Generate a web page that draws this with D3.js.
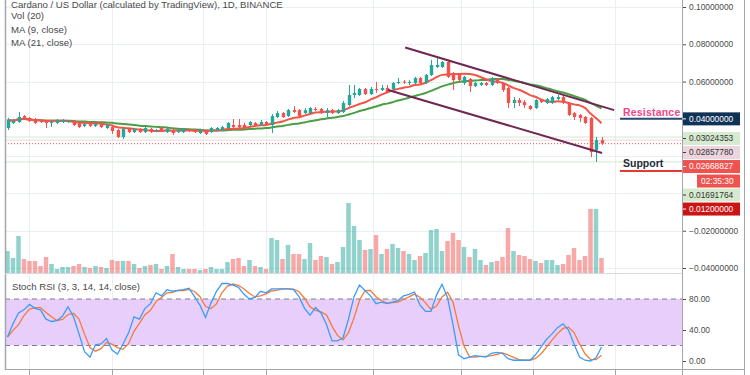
<!DOCTYPE html>
<html>
<head>
<meta charset="utf-8">
<script src="https://cdn.jsdelivr.net/npm/d3@7"></script>
<style>
  body { margin: 0; background: #fff; }
  svg { display: block; font-family: 'Liberation Sans', Arial, sans-serif; }
</style>
</head>
<body>
<svg id="chart" width="750" height="375"></svg>
<script>
// daily candles: open, high, low, close
const candles = [
  [0.0351, 0.0405, 0.0340, 0.0394], [0.0378, 0.0399, 0.0372, 0.0388], [0.0383, 0.0437, 0.0378, 0.0410], [0.0415, 0.0421, 0.0399, 0.0405],
  [0.0405, 0.0410, 0.0383, 0.0388], [0.0399, 0.0405, 0.0372, 0.0378], [0.0388, 0.0394, 0.0378, 0.0383], [0.0388, 0.0394, 0.0351, 0.0378],
  [0.0378, 0.0388, 0.0356, 0.0383], [0.0378, 0.0399, 0.0372, 0.0394], [0.0383, 0.0399, 0.0378, 0.0394], [0.0383, 0.0394, 0.0378, 0.0388],
  [0.0388, 0.0394, 0.0362, 0.0367], [0.0378, 0.0383, 0.0351, 0.0356], [0.0362, 0.0378, 0.0356, 0.0372], [0.0372, 0.0378, 0.0356, 0.0362],
  [0.0362, 0.0378, 0.0356, 0.0372], [0.0372, 0.0378, 0.0351, 0.0356], [0.0351, 0.0372, 0.0346, 0.0367], [0.0356, 0.0362, 0.0319, 0.0335],
  [0.0340, 0.0346, 0.0297, 0.0303], [0.0303, 0.0351, 0.0292, 0.0346], [0.0346, 0.0351, 0.0324, 0.0329], [0.0329, 0.0351, 0.0324, 0.0346],
  [0.0346, 0.0351, 0.0324, 0.0329], [0.0329, 0.0356, 0.0324, 0.0351], [0.0346, 0.0351, 0.0324, 0.0329], [0.0335, 0.0346, 0.0329, 0.0340],
  [0.0351, 0.0356, 0.0329, 0.0335], [0.0329, 0.0351, 0.0324, 0.0346], [0.0340, 0.0346, 0.0313, 0.0324], [0.0329, 0.0346, 0.0324, 0.0340],
  [0.0329, 0.0351, 0.0324, 0.0346], [0.0340, 0.0346, 0.0329, 0.0335], [0.0340, 0.0346, 0.0324, 0.0329], [0.0324, 0.0346, 0.0319, 0.0340],
  [0.0335, 0.0340, 0.0313, 0.0319], [0.0329, 0.0356, 0.0324, 0.0351], [0.0340, 0.0356, 0.0335, 0.0351], [0.0340, 0.0362, 0.0335, 0.0356],
  [0.0351, 0.0383, 0.0346, 0.0378], [0.0367, 0.0399, 0.0351, 0.0356], [0.0367, 0.0399, 0.0351, 0.0356], [0.0367, 0.0378, 0.0351, 0.0356],
  [0.0367, 0.0388, 0.0362, 0.0383], [0.0378, 0.0383, 0.0362, 0.0367], [0.0367, 0.0394, 0.0362, 0.0383], [0.0383, 0.0388, 0.0367, 0.0372],
  [0.0367, 0.0426, 0.0324, 0.0415], [0.0410, 0.0442, 0.0405, 0.0431], [0.0431, 0.0437, 0.0405, 0.0410], [0.0415, 0.0453, 0.0410, 0.0447],
  [0.0447, 0.0469, 0.0431, 0.0437], [0.0447, 0.0453, 0.0410, 0.0415], [0.0431, 0.0458, 0.0426, 0.0447], [0.0431, 0.0464, 0.0426, 0.0458],
  [0.0453, 0.0464, 0.0442, 0.0447], [0.0453, 0.0458, 0.0426, 0.0431], [0.0431, 0.0458, 0.0410, 0.0447], [0.0447, 0.0453, 0.0426, 0.0431],
  [0.0431, 0.0453, 0.0426, 0.0447], [0.0437, 0.0496, 0.0431, 0.0485], [0.0474, 0.0582, 0.0469, 0.0528], [0.0528, 0.0582, 0.0512, 0.0539],
  [0.0528, 0.0566, 0.0523, 0.0560], [0.0560, 0.0566, 0.0528, 0.0533], [0.0533, 0.0571, 0.0528, 0.0560], [0.0560, 0.0598, 0.0539, 0.0555],
  [0.0555, 0.0582, 0.0549, 0.0566], [0.0566, 0.0582, 0.0539, 0.0544], [0.0560, 0.0598, 0.0555, 0.0592], [0.0592, 0.0619, 0.0587, 0.0598],
  [0.0600, 0.0608, 0.0587, 0.0598], [0.0592, 0.0608, 0.0582, 0.0598], [0.0592, 0.0625, 0.0587, 0.0619], [0.0619, 0.0625, 0.0587, 0.0592],
  [0.0592, 0.0641, 0.0587, 0.0635], [0.0635, 0.0716, 0.0630, 0.0689], [0.0678, 0.0726, 0.0673, 0.0689], [0.0678, 0.0710, 0.0673, 0.0705],
  [0.0705, 0.0710, 0.0619, 0.0625], [0.0646, 0.0651, 0.0555, 0.0608], [0.0635, 0.0641, 0.0598, 0.0608], [0.0592, 0.0630, 0.0582, 0.0625],
  [0.0614, 0.0619, 0.0544, 0.0576], [0.0576, 0.0598, 0.0571, 0.0592], [0.0582, 0.0598, 0.0576, 0.0592], [0.0592, 0.0598, 0.0576, 0.0582],
  [0.0582, 0.0625, 0.0576, 0.0619], [0.0614, 0.0619, 0.0587, 0.0592], [0.0592, 0.0598, 0.0544, 0.0555], [0.0566, 0.0571, 0.0458, 0.0485],
  [0.0485, 0.0517, 0.0458, 0.0501], [0.0501, 0.0512, 0.0469, 0.0485], [0.0490, 0.0501, 0.0458, 0.0474], [0.0469, 0.0474, 0.0447, 0.0453],
  [0.0458, 0.0506, 0.0453, 0.0501], [0.0501, 0.0506, 0.0485, 0.0490], [0.0485, 0.0512, 0.0480, 0.0506], [0.0485, 0.0523, 0.0480, 0.0517],
  [0.0506, 0.0528, 0.0501, 0.0517], [0.0517, 0.0528, 0.0480, 0.0485], [0.0485, 0.0490, 0.0415, 0.0421], [0.0431, 0.0437, 0.0394, 0.0410],
  [0.0421, 0.0426, 0.0383, 0.0405], [0.0410, 0.0415, 0.0372, 0.0378], [0.0405, 0.0410, 0.0195, 0.0222], [0.0233, 0.0303, 0.0169, 0.0286],
  [0.0286, 0.0302, 0.0260, 0.0267]
]

// volume, millions
const volumes = [
  22, 15, 37, 14, 12, 12, 7, 16, 9, 4, 6, 6, 7, 9, 6, 5, 7, 6, 5, 13,
  12, 12, 12, 9, 5, 7, 8, 9, 4, 7, 19, 6, 4, 4, 4, 3, 4, 6, 4, 4,
  11, 14, 15, 7, 13, 7, 6, 4, 35, 33, 14, 28, 19, 19, 14, 30, 13, 17, 16, 9,
  11, 26, 70, 47, 33, 23, 24, 38, 19, 24, 29, 25, 22, 19, 13, 17, 20, 43, 44, 22,
  32, 40, 33, 26, 16, 24, 13, 8, 11, 12, 16, 45, 22, 18, 17, 14, 12, 10, 13, 13,
  8, 9, 18, 25, 13, 17, 64, 64, 15
]

// stoch RSI %K
const stochK = [
  31, 48, 62, 66, 73, 68, 66, 54, 51, 52, 58, 70, 57, 35, 12, 5, 21, 22, 29, 14,
  9, 22, 36, 57, 54, 68, 74, 88, 84, 92, 90, 91, 92, 94, 83, 72, 56, 75, 90, 100,
  100, 98, 95, 86, 80, 82, 90, 88, 93, 93, 93, 93, 92, 83, 68, 59, 69, 62, 47, 26,
  26, 30, 54, 83, 98, 91, 84, 74, 76, 74, 76, 78, 84, 86, 89, 72, 64, 64, 85, 99,
  82, 47, 8, 3, 5, 7, 6, 5, 10, 11, 10, 3, 1, 1, 1, 1, 8, 18, 28, 35,
  43, 48, 40, 22, 5, 1, 0, 4, 18
]

const priceTicks = [0.10, 0.08, 0.06, 0.04, 0.02, 0, -0.02, -0.04]
const rsiTicks = [80, 40, 0]
const gridDays = [4, 19, 35.5, 47, 66.5, 82.5, 95.5, 110.5]
const channelUpper = [[72.3, 0.0783], [110.3, 0.0447]]
const channelLower = [[69.2, 0.0555], [108.1, 0.0217]]
const resistance = 0.04
const support = 0.012
const priceLabels = [
  { v: 0.03024353, line: '#d3e8cf', bg: '#d6eacf', fg: '#333' },
  { v: 0.02857780, line: '#f1d4de', bg: '#ecd4df', fg: '#333' },
  { v: 0.02668827, line: '#ef5350', bg: '#ef5350', fg: '#fff', dotted: true, timer: '02:35:30' },
  { v: 0.01691764, line: '#d3e8cf', bg: '#d6eacf', fg: '#333' },
  { v: 0.012, bg: '#cc1414', fg: '#fff' }
]
const legend = ['Cardano / US Dollar (calculated by TradingView), 1D, BINANCE', 'Vol (20)', 'MA (9, close)', 'MA (21, close)']

const up = '#26a69a', down = '#ef5350'
const paneL = 5, paneR = 682, mainB = 273, rsiT = 274, rsiB = 370

let svg = d3.select('#chart')
let x = d3.scaleLinear().domain([0, 108]).range([7.5, 601.5])
let y = d3.scaleLinear().domain([-0.04, 0.10]).range([268, 7])
let yVol = d3.scaleLinear().domain([0, 100]).range([mainB, mainB - 100])
let yRsi = d3.scaleLinear().domain([0, 100]).range([361, 283.5])
let fmt = d3.format('.8f')

let defs = svg.append('defs')
defs.append('clipPath').attr('id', 'clipMain').append('rect')
  .attr('x', paneL).attr('y', 0).attr('width', paneR - paneL).attr('height', mainB)
defs.append('clipPath').attr('id', 'clipRsi').append('rect')
  .attr('x', paneL).attr('y', rsiT).attr('width', paneR - paneL).attr('height', rsiB - rsiT)

// grid
let grid = svg.append('g').attr('stroke', '#e9eff4').attr('stroke-width', 1)
grid.selectAll('.gx').data(gridDays).join('line')
  .attr('x1', d => Math.round(x(d)) + 0.5).attr('x2', d => Math.round(x(d)) + 0.5)
  .attr('y1', 0).attr('y2', rsiB)
grid.selectAll('.gy').data(priceTicks).join('line')
  .attr('x1', paneL).attr('x2', paneR)
  .attr('y1', d => Math.round(y(d)) + 0.5).attr('y2', d => Math.round(y(d)) + 0.5)
grid.append('line')
  .attr('x1', paneL).attr('x2', paneR)
  .attr('y1', Math.round(yRsi(40)) + 0.5).attr('y2', Math.round(yRsi(40)) + 0.5)

let main = svg.append('g').attr('clip-path', 'url(#clipMain)')

// volume
let bw = x(1) - x(0)
main.append('g').selectAll('rect').data(volumes).join('rect')
  .attr('x', (d, i) => x(i) - bw / 2 + 0.5)
  .attr('width', bw - 1)
  .attr('y', d => yVol(d))
  .attr('height', d => yVol(0) - yVol(d))
  .attr('fill', (d, i) => candles[i][3] >= candles[i][0] ? up : down)
  .attr('fill-opacity', 0.5)

// price level lines
priceLabels.filter(d => d.line).forEach(d => {
  main.append('line')
    .attr('x1', paneL).attr('x2', paneR)
    .attr('y1', y(d.v)).attr('y2', y(d.v))
    .attr('stroke', d.line)
    .attr('stroke-width', 1)
    .attr('stroke-dasharray', d.dotted ? '1,2' : null)
})

// moving averages
function movingAvg(n) {
  return candles.map((c, i) => d3.mean(candles.slice(Math.max(0, i - n + 1), i + 1), d => d[3]))
}
let line = d3.line().x((d, i) => x(i)).y(d => y(d)).curve(d3.curveMonotoneX)
main.append('path').datum(movingAvg(21))
  .attr('d', line).attr('fill', 'none').attr('stroke', '#4b9e45').attr('stroke-width', 2)
main.append('path').datum(movingAvg(9))
  .attr('d', line).attr('fill', 'none').attr('stroke', '#f25546').attr('stroke-width', 2)

// candles
let cg = main.append('g').selectAll('g').data(candles).join('g')
  .attr('stroke', d => d[3] >= d[0] ? up : down)
  .attr('fill', d => d[3] >= d[0] ? up : down)
cg.append('line')
  .attr('x1', (d, i) => Math.round(x(i)) + 0.5).attr('x2', (d, i) => Math.round(x(i)) + 0.5)
  .attr('y1', d => y(d[1])).attr('y2', d => y(d[2]))
cg.append('rect')
  .attr('stroke', 'none')
  .attr('x', (d, i) => Math.round(x(i)) + 0.5 - 1.7)
  .attr('width', 3.4)
  .attr('y', d => y(Math.max(d[0], d[3])))
  .attr('height', d => Math.max(1, Math.abs(y(d[0]) - y(d[3]))))

// channel
;[channelUpper, channelLower].forEach(c => {
  main.append('line')
    .attr('x1', x(c[0][0])).attr('y1', y(c[0][1]))
    .attr('x2', x(c[1][0])).attr('y2', y(c[1][1]))
    .attr('stroke', '#6e2853').attr('stroke-width', 2)
})

// resistance / support
let rayX = 620
svg.append('line').attr('x1', rayX).attr('x2', paneR).attr('y1', y(resistance)).attr('y2', y(resistance))
  .attr('stroke', '#2b4a73').attr('stroke-width', 2)
svg.append('text').attr('x', rayX + 3).attr('y', y(resistance) - 3)
  .attr('font-size', 10.5).attr('font-weight', 'bold').attr('fill', '#f0468a')
  .attr('letter-spacing', 0.2).text('Resistance')
svg.append('line').attr('x1', rayX).attr('x2', paneR).attr('y1', y(support)).attr('y2', y(support))
  .attr('stroke', '#e53935').attr('stroke-width', 2)
svg.append('text').attr('x', rayX + 3).attr('y', y(support) - 4)
  .attr('font-size', 10.5).attr('font-weight', 'bold').attr('fill', '#1f2a38')
  .text('Support')

// legend
svg.append('g').selectAll('text').data(legend).join('text')
  .attr('x', 11)
  .attr('y', (d, i) => [7.5, 19, 32.5, 46][i])
  .attr('font-size', 9.6)
  .attr('fill', '#4a4a4a')
  .text(d => d)

// stoch RSI pane
let rsi = svg.append('g').attr('clip-path', 'url(#clipRsi)')
rsi.append('rect')
  .attr('x', paneL).attr('width', paneR - paneL)
  .attr('y', yRsi(80)).attr('height', yRsi(20) - yRsi(80))
  .attr('fill', '#e8cffb')
;[80, 20].forEach(v => {
  rsi.append('line').attr('x1', paneL).attr('x2', paneR)
    .attr('y1', yRsi(v)).attr('y2', yRsi(v))
    .attr('stroke', '#7b7e88').attr('stroke-dasharray', '5,4')
})
let stochD = stochK.map((d, i) => d3.mean(stochK.slice(Math.max(0, i - 2), i + 1)))
let rsiLine = d3.line().x((d, i) => x(i)).y(d => yRsi(d))
rsi.append('path').datum(stochD).attr('d', rsiLine)
  .attr('fill', 'none').attr('stroke', '#f57a3a').attr('stroke-width', 1.3)
rsi.append('path').datum(stochK).attr('d', rsiLine)
  .attr('fill', 'none').attr('stroke', '#3d9bf6').attr('stroke-width', 1.3)
svg.append('text').attr('x', 12).attr('y', 290)
  .attr('font-size', 9.6).attr('fill', '#4a4a4a')
  .text('Stoch RSI (3, 3, 14, 14, close)')

// price labels on the scale: stacked downward so they never overlap
let boxes = [{ cy: y(resistance), text: fmt(resistance), bg: '#0f3257', fg: '#fff', x0: paneR }]
let prev = -Infinity
priceLabels.forEach(d => {
  let cy = Math.max(y(d.v) + 1.5, prev + 14)
  boxes.push({ cy: cy, text: fmt(d.v), bg: d.bg, fg: d.fg, x0: paneR })
  prev = cy
  if (d.timer) {
    prev = cy + 14.5
    boxes.push({ cy: prev, text: d.timer, bg: d.bg, fg: d.fg, x0: 697 })
  }
})

// right axes, hiding tick labels covered by a price label
function styleAxis(g) {
  g.select('.domain').remove()
  g.selectAll('.tick line').attr('stroke', '#4a4a4a')
  g.selectAll('.tick text').attr('fill', '#4a4a4a').attr('font-size', 8.4)
    .attr('font-family', "'Liberation Sans', Arial, sans-serif")
}
let priceAxis = svg.append('g').attr('transform', `translate(${paneR},0)`)
  .call(d3.axisRight(y).tickValues(priceTicks).tickFormat(fmt).tickSize(4).tickPadding(3))
  .call(styleAxis)
priceAxis.selectAll('.tick')
  .filter(d => boxes.some(b => Math.abs(b.cy - y(d)) < 12))
  .remove()
svg.append('g').attr('transform', `translate(${paneR},0)`)
  .call(d3.axisRight(yRsi).tickValues(rsiTicks).tickFormat(d3.format('.2f')).tickSize(4).tickPadding(3))
  .call(styleAxis)

boxes.forEach(b => {
  let g = svg.append('g')
  g.append('rect').attr('x', b.x0).attr('y', b.cy - 6.5).attr('width', 740 - b.x0).attr('height', 13).attr('fill', b.bg)
  if (b.x0 === paneR) {
    g.append('line').attr('x1', paneR).attr('x2', paneR + 4).attr('y1', b.cy).attr('y2', b.cy).attr('stroke', b.fg)
  }
  g.append('text').attr('x', b.x0 === paneR ? 689 : b.x0 + 4).attr('y', b.cy).attr('dy', '0.35em')
    .attr('font-size', 8.4).attr('fill', b.fg).text(b.text)
})

// frame
let frame = svg.append('g').attr('stroke', '#a3a6ae')
frame.append('line').attr('x1', 5.5).attr('x2', 5.5).attr('y1', 0).attr('y2', rsiB).attr('stroke-width', 1.5)
frame.append('line').attr('x1', paneR + 0.5).attr('x2', paneR + 0.5).attr('y1', 0).attr('y2', 375)
frame.append('line').attr('x1', 744.5).attr('x2', 744.5).attr('y1', 0).attr('y2', 375)
frame.append('line').attr('x1', paneL).attr('x2', 745).attr('y1', rsiB - 0.5).attr('y2', rsiB - 0.5)
frame.append('line').attr('x1', paneL).attr('x2', paneR).attr('y1', mainB + 0.5).attr('y2', mainB + 0.5).attr('stroke', '#d6d9df')
frame.selectAll('.tx').data(gridDays).join('line')
  .attr('x1', d => Math.round(x(d)) + 0.5).attr('x2', d => Math.round(x(d)) + 0.5)
  .attr('y1', rsiB).attr('y2', 375)
</script>
</body>
</html>
